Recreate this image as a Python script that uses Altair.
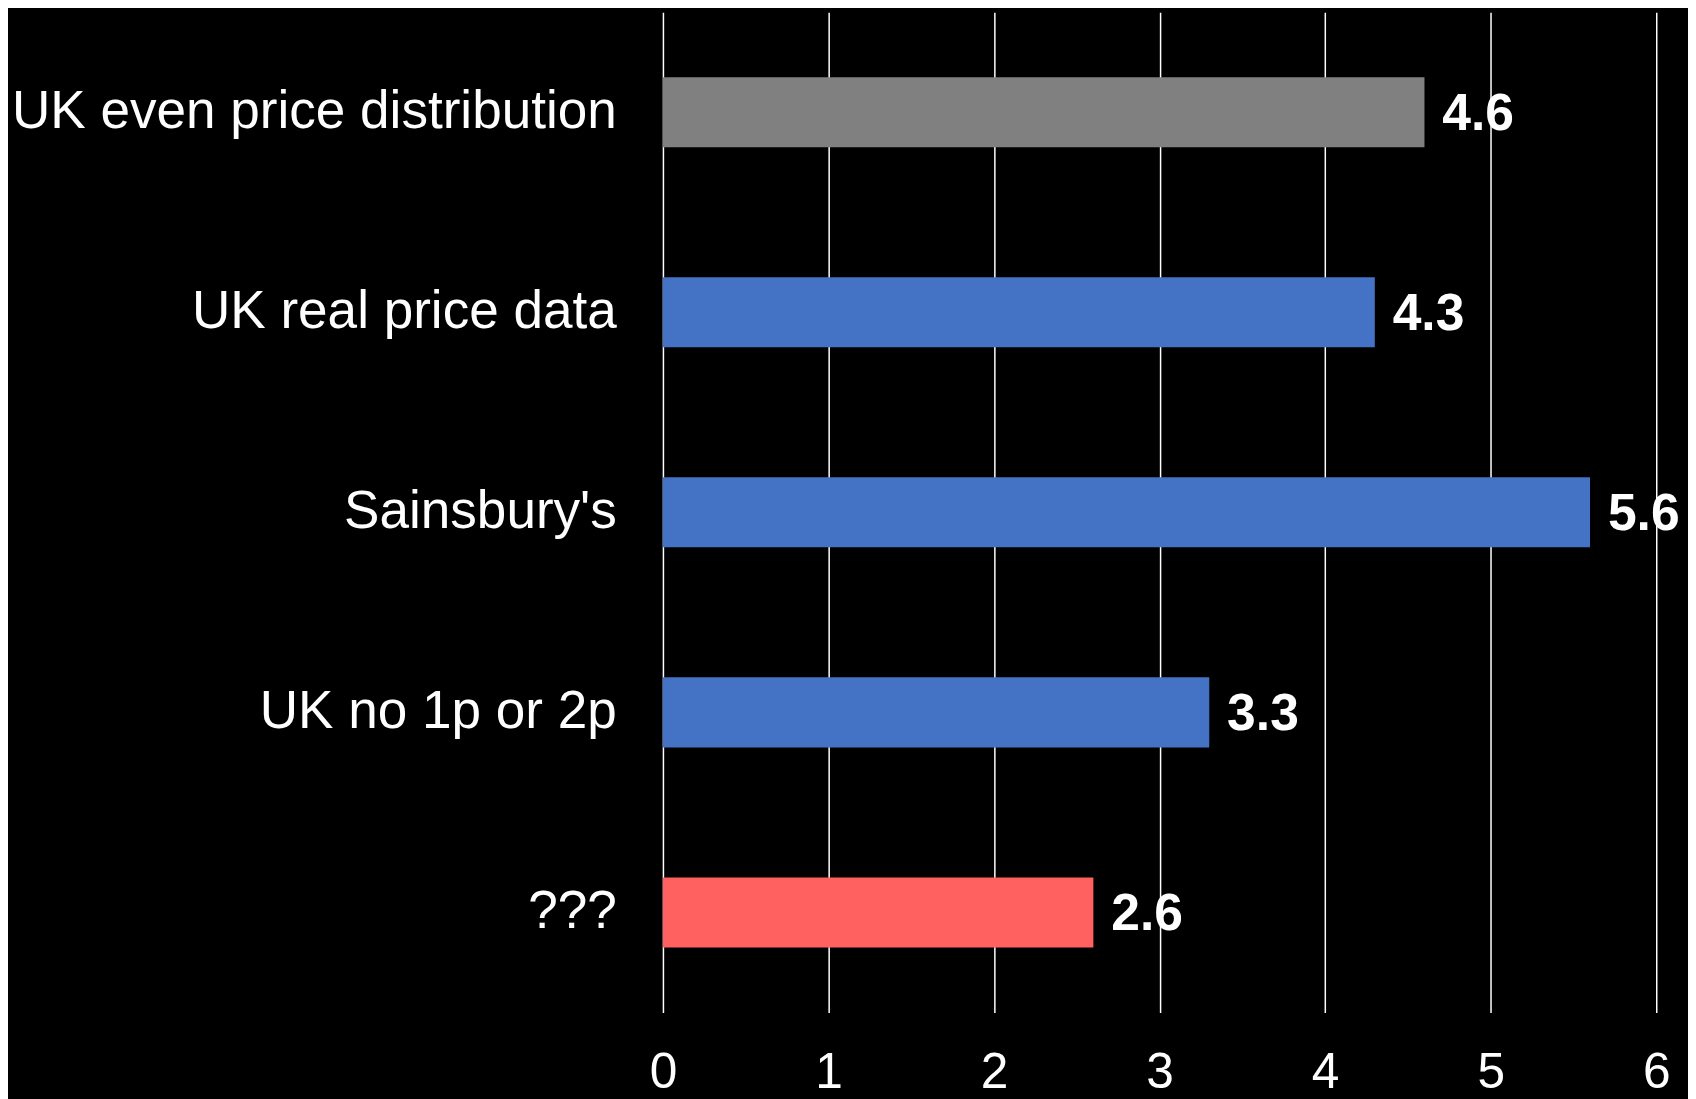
import altair as alt
import pandas as pd

categories = ["UK even price distribution", "UK real price data", "Sainsbury's", "UK no 1p or 2p", "???"]
values = [4.6, 4.3, 5.6, 3.3, 2.6]
colors = ["#808080", "#4472C4", "#4472C4", "#4472C4", "#FF6161"]

df = pd.DataFrame({"cat": categories, "val": values, "color": colors})

base = alt.Chart(df).encode(
    y=alt.Y("cat:N", sort=categories, title=None,
            scale=alt.Scale(paddingInner=0.65, paddingOuter=0.325),
            axis=alt.Axis(labelFont="Liberation Sans", labelFontSize=53.5, labelColor="white",
                          labelPadding=47, ticks=False, domain=False, labelLimit=1000, grid=False)),
)

bars = base.mark_bar().encode(
    x=alt.X("val:Q", title=None,
            scale=alt.Scale(domain=[0, 6], nice=False),
            axis=alt.Axis(values=[0, 1, 2, 3, 4, 5, 6], format="d", labelFont="Liberation Sans",
                          labelFontSize=50, labelColor="white", labelPadding=36, ticks=False,
                          labelFlush=False, labelOverlap=False,
                          domain=False, grid=True, gridColor="white", gridWidth=1.5, gridOpacity=1)),
    color=alt.Color("color:N", scale=None),
)

text = base.mark_text(align="left", baseline="middle", dx=18, dy=2, font="Liberation Sans",
                      fontSize=52, fontWeight="bold", color="white").encode(
    x="val:Q",
    text=alt.Text("val:Q", format=".1f"),
)

chart = (bars + text).properties(
    width=1001, height=1008, background="black",
    padding={"left": 3, "top": 0, "right": 8, "bottom": 0},
).configure_view(stroke=None)

chart.save("out.html", embed_options={"renderer": "svg", "actions": False})
